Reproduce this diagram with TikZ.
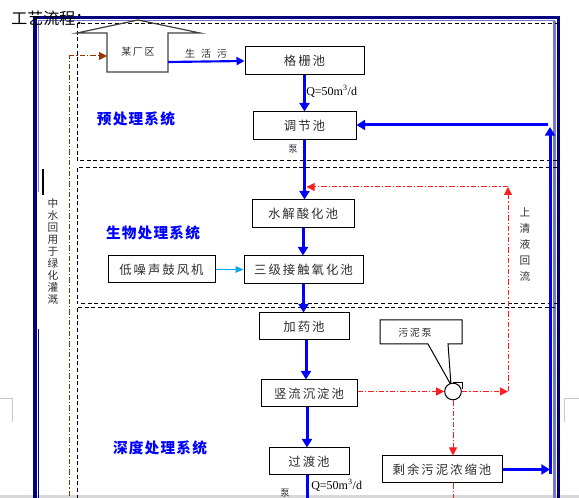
\documentclass[tikz,border=0pt]{standalone}
\usepackage{fontspec}
\setmainfont{Liberation Serif}
\newfontfamily\cjk[LetterSpace=16]{Noto Sans CJK SC}
\newfontfamily\cjkn{Noto Sans CJK SC}
\newfontfamily\cjks[LetterSpace=8]{Noto Sans CJK SC}
\usetikzlibrary{arrows.meta,calc}
\definecolor{navyb}{RGB}{0,0,128}
\definecolor{lav}{RGB}{120,120,200}
\definecolor{flowb}{RGB}{0,0,255}
\definecolor{brownl}{RGB}{153,51,0}
\definecolor{txt}{RGB}{45,45,45}
\definecolor{redl}{RGB}{255,30,30}
\definecolor{pagegray}{RGB}{200,200,200}
\begin{document}
\begin{tikzpicture}[x=0.75pt,y=-0.75pt,
  box/.style={draw=black, line width=0.75pt, inner sep=0pt, text=txt, font=\cjk\fontsize{9.3}{10}\selectfont},
  flow/.style={draw=flowb, line width=2.25pt, -{Triangle[width=7.5pt,length=6.5pt]}},
  thinflow/.style={draw=flowb, line width=1.6pt, -{Triangle[width=6pt,length=6pt]}},
  recyc/.style={draw=redl, line width=0.75pt, dash pattern=on 4pt off 1.5pt on 1pt off 1.5pt},
  rarr/.style={recyc, -{Triangle[width=6pt,length=6pt]}},
  secbox/.style={draw=black, line width=0.75pt, dash pattern=on 3pt off 2pt},
  sec/.style={text=flowb, inner sep=0pt, font=\cjks\bfseries\fontsize{11}{12}\selectfont},
  small/.style={text=txt, inner sep=0pt, font=\cjkn\fontsize{7.5}{8}\selectfont},
  vtext/.style={text=txt, inner sep=0pt, align=center, font=\cjkn\fontsize{8}{9}\selectfont},
  qlab/.style={font=\fontsize{9}{10}\selectfont, text=black, anchor=west, inner sep=0pt},
]
\useasboundingbox (0,0) rectangle (579,498);
\clip (0,0) rectangle (579,498);

% page marks
\draw[pagegray, line width=0.75pt] (0,399) -- (12,399) -- (12,422);
\draw[pagegray, line width=0.75pt] (579,399) -- (564,399) -- (564,422);
\fill[pagegray!70] (0,495.5) rectangle (579,498);

% page border
\draw[navyb, line width=2.6pt] (34.8,560) -- (34.8,17.6) -- (558.4,17.6) -- (558.4,560);
\draw[lav, line width=1pt] (38.5,192) -- (38.5,20.6) -- (555,20.6);
\draw[navyb, line width=1pt] (38.5,329) -- (38.5,560);
\draw[lav, line width=2.3pt] (554.8,20.6) -- (554.8,560);
\draw[line width=1.5pt] (43,169) -- (43,195);

% dashed sections
\draw[secbox] (77,24) rectangle (557.5,161);
\draw[secbox] (77,168) rectangle (557.5,304);
\draw[secbox] (77,308) rectangle (557.5,560);

% title
\node[anchor=west, inner sep=0pt, font=\cjkn\fontsize{12}{13}\selectfont] (title) at (11,18) {工艺流程：};

% house
\draw[draw=black!75, line width=0.9pt] (107,72) -- (107,33) -- (77,33) -- (138,20) -- (200,33) -- (168,33) -- (168,72) -- cycle;
\node[text=txt, inner sep=0pt, font=\cjk\fontsize{7.5}{8}\selectfont] (plant) at (138,52) {某厂区};
\coordinate (hl) at (107,56);
\coordinate (hr) at (168,62);
\coordinate (bl) at (69,56);
\coordinate (bb) at (69,560);
\draw[brownl, line width=0.75pt, dash pattern=on 4pt off 1.5pt on 1pt off 1.5pt] (bb) -- (bl);
\draw[brownl, line width=0.75pt, dash pattern=on 4pt off 1.5pt on 1pt off 1.5pt, -{Triangle[width=6pt,length=6pt]}] (bl) -- (hl);

% boxes
\node[box, minimum width=89.25pt, minimum height=21pt] (gs) at (304.5,61) {格栅池};
\node[box, minimum width=77.25pt, minimum height=21pt] (tj) at (304.5,126) {调节池};
\node[box, minimum width=76.5pt, minimum height=21pt] (sj) at (303,214) {水解酸化池};
\node[box, minimum width=89.25pt, minimum height=21pt] (sanji) at (303.5,270) {三级接触氧化池};
\node[box, minimum width=80.25pt, minimum height=20.25pt] (gf) at (161.5,269.5) {低噪声鼓风机};
\node[box, minimum width=67.5pt, minimum height=20.25pt] (jy) at (304,326.5) {加药池};
\node[box, minimum width=72pt, minimum height=20.25pt] (sl) at (309,393.5) {竖流沉淀池};
\node[box, minimum width=60pt, minimum height=20.25pt] (gd) at (309,461.5) {过渡池};
\node[box, minimum width=90pt, minimum height=20.25pt] (sy) at (442,469.5) {剩余污泥浓缩池};

% section labels
\node[sec] (s1) at (136,119) {预处理系统};
\node[sec] (s2) at (153,233) {生物处理系统};
\node[sec] (s3) at (160,448) {深度处理系统};

% vertical texts
\node[vtext] (reuse) at (53,251) {中\\水\\回\\用\\于\\绿\\化\\灌\\溉};
\node[vtext, font=\cjkn\fontsize{8}{12}\selectfont] (back) at (525,245) {上\\清\\液\\回\\流};

% small labels
\node[small] (sh) at (206,54) {生\hspace{4.5pt}活\hspace{4.5pt}污};
\node[small, font=\cjkn\fontsize{7}{8}\selectfont] (b1) at (293,149) {泵};
\node[small, font=\cjkn\fontsize{7}{8}\selectfont] (b2) at (285,493) {泵};
\node[qlab] (q1) at (306,91) {Q=50m\textsuperscript{3}/d};
\node[qlab] (q2) at (311,485) {Q=50m\textsuperscript{3}/d};

% callout and pump
\draw[line width=0.75pt, fill=white] (380,320) -- (462,320) -- (462,344) -- (448,344) -- (451,385) -- (428,344) -- (380,344) -- cycle;
\node[text=txt, inner sep=0pt, font=\cjk\fontsize{7.5}{8}\selectfont] (cbt) at (415,333) {污泥泵};
\node[draw, circle, line width=0.75pt, minimum size=12.5pt, inner sep=0pt, fill=white] (pump) at (453,391.5) {};
\draw[line width=0.75pt] (pump.north) -- ++(9,0) -- ++(0,6);

% blue flow
\draw[thinflow] (hr) -- (gs.west);
\draw[flow] (gs.south) -- (tj.north);
\draw[flow] (tj.south) -- (tj.south |- sj.north);
\draw[flow] (sj.south) -- (sj.south |- sanji.north);
\draw[flow] (sanji.south) -- (sanji.south |- jy.north);
\draw[flow] ([xshift=1.5pt]jy.south) -- ([xshift=1.5pt]jy.south |- sl.north);
\draw[flow] ([xshift=-1.5pt]sl.south) -- ([xshift=-1.5pt]sl.south |- gd.north);
\coordinate (gdb) at (307,520);
\draw[draw=flowb, line width=2.25pt] ([xshift=-1.5pt]gd.south) -- (gdb);

% return line
\coordinate (rb1) at (550,474);
\coordinate (rb2) at (550,127);
\coordinate (rb3) at (548,125);
\draw[flow] (sy.east) -- (rb1 |- sy.east);
\draw[flow] (rb1) -- (rb2);
\draw[flow] (rb3) -- (rb3 -| tj.east);

% air
\draw[draw=cyan, line width=0.75pt, -{Triangle[width=5pt,length=6pt]}] (gf.east) -- (gf.east -| sanji.west);

% red sludge / supernatant
\coordinate (rc1) at (508,391.5);
\coordinate (rc2) at (508,187);
\coordinate (rc0) at (453,520);
\draw[rarr] (sl.east |- pump.west) -- (pump.west);
\draw[rarr] (pump.east) -- (rc1);
\draw[rarr] (rc1) -- (rc2);
\draw[rarr] (rc2) -- ([xshift=1.5pt]rc2 -| tj.south);
\draw[rarr] (pump.south) -- (pump.south |- sy.north);
\draw[recyc] (sy.south -| pump) -- (rc0);
\end{tikzpicture}
\end{document}
